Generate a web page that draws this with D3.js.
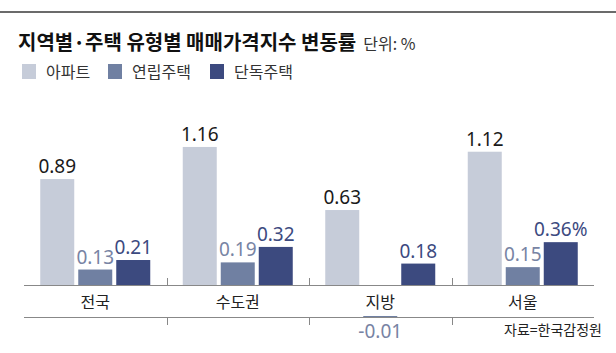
<!DOCTYPE html>
<html><head><meta charset="utf-8">
<script src="https://cdn.jsdelivr.net/npm/d3@7"></script>
<style>
html,body{margin:0;padding:0;background:#fff;}
svg{display:block;font-family:"Noto Sans CJK KR","Noto Sans",sans-serif;}
</style></head>
<body>
<script>
const categories = ["전국", "수도권", "지방", "서울"];
const seriesNames = ["아파트", "연립주택", "단독주택"];
const apartment = [0.89, 1.16, 0.63, 1.12];
const rowHouse = [0.13, 0.19, -0.01, 0.15];
const detached = [0.21, 0.32, 0.18, 0.36];
const valueLabels = [
  ["0.89", "1.16", "0.63", "1.12"],
  ["0.13", "0.19", "-0.01", "0.15"],
  ["0.21", "0.32", "0.18", "0.36%"]
];
const title = "지역별·주택 유형별 매매가격지수 변동률";
const unitText = "단위: %";
const sourceText = "자료=한국감정원";

const colors = ["#c6ccd9", "#7080a2", "#3c4a7f"];
const labelColors = ["#1a1a1a", "#7884a4", "#3c4a7f"];
const seriesValues = [apartment, rowHouse, detached];

const W = 616, H = 353;
const svg = d3.select("body").append("svg").attr("width", W).attr("height", H);

// top rule
svg.append("rect").attr("x", 0).attr("y", 11).attr("width", W).attr("height", 2).attr("fill", "#6b6b6b");

// title
const t = svg.append("text").attr("x", 18).attr("y", 50).attr("fill", "#111");
t.append("tspan").attr("font-size", 20).attr("font-weight", 700).text(title);
t.append("tspan").attr("font-size", 16).attr("dx", 7).attr("fill", "#333").text(unitText);

// legend
const legendX = [22, 108, 210];
seriesNames.forEach((s, i) => {
  const g = svg.append("g").attr("transform", `translate(${legendX[i]},64)`);
  g.append("rect").attr("width", 14).attr("height", 15).attr("fill", colors[i]);
  g.append("text").attr("x", 24).attr("y", 14).attr("font-size", 16).attr("fill", "#333").text(s);
});

// scales
const x0 = d3.scaleBand().domain(categories).range([24, 594]).padding(0);
const innerW = 110;
const x1 = d3.scaleBand().domain(seriesNames).range([0, innerW]).paddingInner(4 / 38).paddingOuter(0);
const baseY = 285;
const y = d3.scaleLinear().domain([0, 1]).range([baseY, baseY - 119]);
const lowerY = 317;
const yNeg = d3.scaleLinear().domain([0, -1]).range([lowerY - 1, lowerY - 1 + 119]);

const groupOff = (x0.bandwidth() - innerW) / 2;

// bars
categories.forEach((c, ci) => {
  const gx = x0(c) + groupOff;
  seriesNames.forEach((s, si) => {
    const v = seriesValues[si][ci];
    const bx = gx + x1(s);
    if (v >= 0) {
      svg.append("rect").attr("x", bx).attr("y", y(v)).attr("width", x1.bandwidth())
        .attr("height", y(0) - y(v)).attr("fill", colors[si]);
      svg.append("text").attr("x", bx + x1.bandwidth() / 2).attr("y", y(v) - 6)
        .attr("text-anchor", "middle").attr("font-size", 19).attr("font-family", "'Noto Sans',sans-serif")
        .attr("fill", labelColors[si]).text(valueLabels[si][ci]);
    } else {
      svg.append("rect").attr("x", bx).attr("y", yNeg(0)).attr("width", x1.bandwidth())
        .attr("height", Math.max(2, yNeg(v) - yNeg(0))).attr("fill", colors[si]);
      svg.append("text").attr("x", bx + x1.bandwidth() / 2).attr("y", lowerY + 21)
        .attr("text-anchor", "middle").attr("font-size", 19).attr("font-family", "'Noto Sans',sans-serif")
        .attr("fill", labelColors[si]).text(valueLabels[si][ci]);
    }
  });
});

// upper axis
const axisColor = "#888";
svg.append("line").attr("x1", 24).attr("x2", 594).attr("y1", baseY + 0.5).attr("y2", baseY + 0.5)
  .attr("stroke", axisColor).attr("stroke-width", 1.2);
categories.slice(1).forEach(c => {
  const tx = Math.round(x0(c)) + 0.5;
  svg.append("line").attr("x1", tx).attr("x2", tx).attr("y1", baseY - 7).attr("y2", baseY)
    .attr("stroke", axisColor).attr("stroke-width", 1);
});
// category labels
categories.forEach(c => {
  svg.append("text").attr("x", x0(c) + x0.bandwidth() / 2).attr("y", 308)
    .attr("text-anchor", "middle").attr("font-size", 16).attr("fill", "#222").text(c);
});
// lower axis
svg.append("line").attr("x1", 24).attr("x2", 594).attr("y1", lowerY + 0.5).attr("y2", lowerY + 0.5)
  .attr("stroke", axisColor).attr("stroke-width", 1.2);
categories.slice(1).forEach(c => {
  const tx = Math.round(x0(c)) + 0.5;
  svg.append("line").attr("x1", tx).attr("x2", tx).attr("y1", lowerY).attr("y2", lowerY + 8)
    .attr("stroke", axisColor).attr("stroke-width", 1);
});

// source
svg.append("text").attr("x", 602).attr("y", 335).attr("text-anchor", "end")
  .attr("font-size", 14).attr("fill", "#222").text(sourceText);
</script>
</body></html>
